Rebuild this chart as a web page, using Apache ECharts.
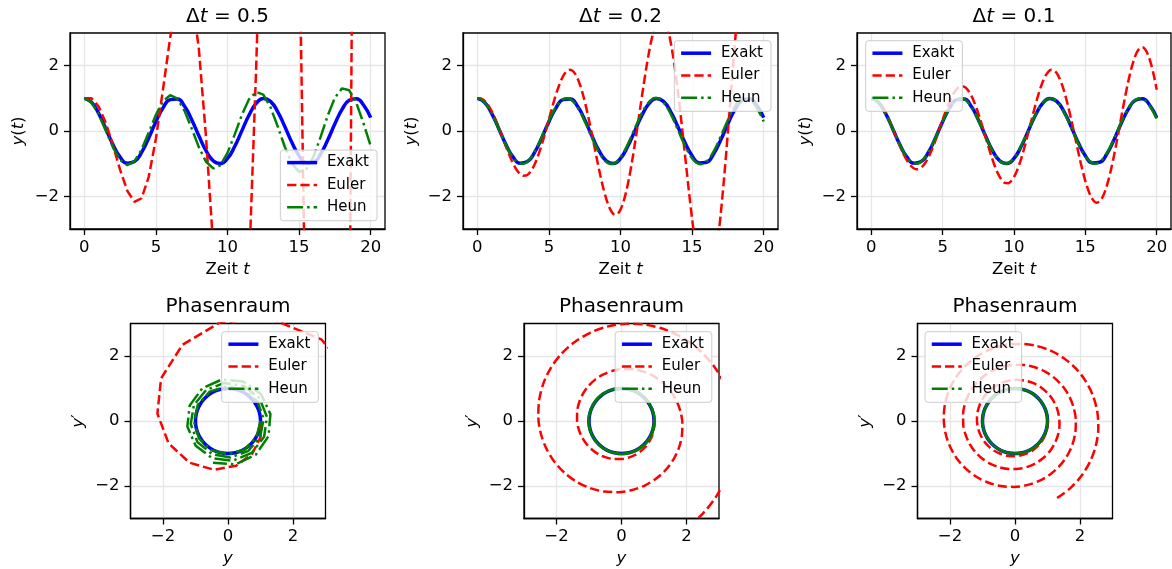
<!DOCTYPE html>
<html>
<head>
<meta charset="utf-8">
<title>Euler vs. Heun</title>
<script src="https://cdn.jsdelivr.net/npm/echarts@6/dist/echarts.min.js"></script>
<style>
  html, body { margin: 0; padding: 0; background: #fff; }
  #chart { width: 1172px; height: 569px; }
</style>
</head>
<body>
<div id="chart"></div>
<script>
// Zeitachsen
var tHalf = [0, 0.5, 1, 1.5, 2, 2.5, 3, 3.5, 4, 4.5, 5, 5.5, 6, 6.5, 7, 7.5, 8, 8.5, 9, 9.5, 10,
  10.5, 11, 11.5, 12, 12.5, 13, 13.5, 14, 14.5, 15, 15.5, 16, 16.5, 17, 17.5, 18, 18.5, 19, 19.5, 20]
var tSample = [0, 0.4, 0.8, 1.2, 1.6, 2, 2.4, 2.8, 3.2, 3.6, 4, 4.4, 4.8, 5.2, 5.6, 6, 6.4, 6.8, 7.2, 7.6, 8,
  8.4, 8.8, 9.2, 9.6, 10, 10.4, 10.8, 11.2, 11.6, 12, 12.4, 12.8, 13.2, 13.6, 14, 14.4, 14.8, 15.2, 15.6, 16,
  16.4, 16.8, 17.2, 17.6, 18, 18.4, 18.8, 19.2, 19.6, 20]
var tMid = [0.2, 0.6, 1, 1.4, 1.8, 2.2, 2.6, 3, 3.4, 3.8, 4.2, 4.6, 5, 5.4, 5.8, 6.2, 6.6, 7, 7.4, 7.8,
  8.2, 8.6, 9, 9.4, 9.8, 10.2, 10.6, 11, 11.4, 11.8, 12.2, 12.6, 13, 13.4, 13.8, 14.2, 14.6, 15, 15.4, 15.8,
  16.2, 16.6, 17, 17.4, 17.8, 18.2, 18.6, 19, 19.4, 19.8]

// exakte Loesung y(t)
var exaktY = [1, 0.878, 0.540, 0.071, -0.416, -0.801, -0.990, -0.936, -0.654, -0.211, 0.284, 0.709, 0.960,
  0.977, 0.754, 0.347, -0.146, -0.602, -0.911, -0.997, -0.839, -0.476, 0.004, 0.483, 0.844, 0.998, 0.907,
  0.595, 0.137, -0.355, -0.760, -0.978, -0.958, -0.702, -0.275, 0.219, 0.660, 0.940, 0.989, 0.796, 0.408]
// exakte Loesung im Phasenraum (Kreis)
var exaktPhaseY = [1, 0.985, 0.940, 0.866, 0.766, 0.643, 0.5, 0.342, 0.174, 0, -0.174, -0.342, -0.5, -0.643,
  -0.766, -0.866, -0.940, -0.985, -1, -0.985, -0.940, -0.866, -0.766, -0.643, -0.5, -0.342, -0.174, 0, 0.174,
  0.342, 0.5, 0.643, 0.766, 0.866, 0.940, 0.985, 1]
var exaktPhaseV = [0, -0.174, -0.342, -0.5, -0.643, -0.766, -0.866, -0.940, -0.985, -1, -0.985, -0.940, -0.866,
  -0.766, -0.643, -0.5, -0.342, -0.174, 0, 0.174, 0.342, 0.5, 0.643, 0.766, 0.866, 0.940, 0.985, 1, 0.985,
  0.940, 0.866, 0.766, 0.643, 0.5, 0.342, 0.174, 0]

// dt = 0.5
var euler05Y = [1, 1, 0.75, 0.25, -0.4375, -1.1875, -1.828, -2.172, -2.059, -1.402, -0.231, 1.290, 2.869,
  4.126, 4.666, 4.174, 2.515, -0.187, -3.517, -6.801, -9.206, -9.910, -8.313, -4.238, 1.915, 9.128, 15.862,
  20.314, 20.800, 16.209, 6.417, -7.427, -22.875, -36.467, -44.339, -43.095, -30.766, -7.664, 23.130, 55.841, 82.768]
var euler05V = [0, -0.5, -1, -1.375, -1.5, -1.281, -0.688, 0.227, 1.313, 2.342, 3.043, 3.159, 2.514, 1.079,
  -0.984, -3.317, -5.404, -6.661, -6.568, -4.809, -1.409, 3.194, 8.150, 12.306, 14.425, 13.468, 8.904, 0.973,
  -9.183, -19.584, -27.688, -30.896, -27.183, -15.745, 2.488, 24.658, 46.205, 61.588, 65.420, 53.855, 25.935]
var heun05Y = [1, 0.875, 0.516, 0.014, -0.500, -0.888, -1.047, -0.930, -0.564, -0.043, 0.498, 0.915, 1.096,
  0.988, 0.616, 0.075, -0.495, -0.942, -1.146, -1.049, -0.671, -0.110, 0.490, 0.969, 1.198, 1.112, 0.730,
  0.148, -0.483, -0.995, -1.251, -1.178, -0.792, -0.189, 0.473, 1.020, 1.305, 1.247, 0.857, 0.234, -0.462]
var heun05V = [0, -0.5, -0.875, -1.023, -0.902, -0.540, -0.028, 0.499, 0.902, 1.071, 0.959, 0.590, 0.059,
  -0.497, -0.929, -1.121, -1.018, -0.644, -0.092, 0.492, 0.955, 1.172, 1.080, 0.700, 0.128, -0.486, -0.982,
  -1.224, -1.145, -0.760, -0.168, 0.478, 1.008, 1.278, 1.212, 0.824, 0.211, -0.468, -1.033, -1.333, -1.283]

// dt = 0.2: Werte bei tSample ...
var euler02Y = [1, 0.96, 0.762, 0.424, -0.010, -0.477, -0.906, -1.223, -1.368, -1.304, -1.025, -0.556, 0.040,
  0.679, 1.260, 1.685, 1.872, 1.772, 1.378, 0.728, -0.092, -0.964, -1.751, -2.320, -2.560, -2.406, -1.851,
  -0.951, 0.176, 1.366, 2.433, 3.193, 3.500, 3.266, 2.486, 1.239, -0.309, -1.933, -3.378, -4.395, -4.784,
  -4.432, -3.335, -1.610, 0.516, 2.733, 4.688, 6.046, 6.537, 6.012, 4.473]
var euler02V = [0, -0.4, -0.768, -1.042, -1.170, -1.119, -0.883, -0.486, 0.023, 0.569, 1.068, 1.435, 1.601,
  1.520, 1.188, 0.637, -0.063, -0.809, -1.485, -1.977, -2.189, -2.065, -1.597, -0.833, 0.129, 1.148, 2.064,
  2.722, 2.994, 2.804, 2.145, 1.086, -0.235, -1.625, -2.867, -3.746, -4.092, -3.805, -2.880, -1.413, 0.401,
  2.299, 3.980, 5.155, 5.593, 5.163, 3.863, 1.833, -0.659, -3.247, -5.522]
var heun02Y = [1, 0.920, 0.693, 0.355, -0.040, -0.429, -0.750, -0.951, -1.000, -0.889, -0.636, -0.281, 0.120,
  0.501, 0.803, 0.976, 0.994, 0.852, 0.574, 0.204, -0.199, -0.571, -0.851, -0.996, -0.981, -0.810, -0.508,
  -0.125, 0.278, 0.637, 0.894, 1.009, 0.962, 0.761, 0.439, 0.046, -0.355, -0.699, -0.932, -1.016, -0.937,
  -0.708, -0.366, 0.035, 0.431, 0.758, 0.964, 1.016, 0.906, 0.650, 0.290]
var heun02V = [0, -0.392, -0.722, -0.936, -1.001, -0.906, -0.665, -0.318, 0.080, 0.465, 0.777, 0.964, 0.998,
  0.871, 0.606, 0.243, -0.159, -0.536, -0.828, -0.987, -0.988, -0.832, -0.542, -0.165, 0.238, 0.604, 0.873,
  1.003, 0.972, 0.786, 0.474, 0.086, -0.317, -0.669, -0.914, -1.013, -0.950, -0.735, -0.403, -0.005, 0.393,
  0.729, 0.949, 1.017, 0.922, 0.680, 0.329, -0.076, -0.468, -0.786, -0.978]
// ... und bei tMid
var euler02YMid = [1, 0.880, 0.608, 0.216, -0.244, -0.701, -1.083, -1.320, -1.364, -1.191, -0.811, -0.269,
  0.360, 0.983, 1.497, 1.812, 1.859, 1.610, 1.080, 0.333, -0.529, -1.377, -2.070, -2.486, -2.534, -2.177,
  -1.438, -0.407, 0.774, 1.927, 2.862, 3.411, 3.453, 2.941, 1.912, 0.490, -1.127, -2.694, -3.954, -4.677,
  -4.704, -3.973, -2.539, -0.579, 1.635, 3.765, 5.461, 6.413, 6.406, 5.363]
var euler02VMid = [-0.2, -0.592, -0.920, -1.127, -1.168, -1.024, -0.702, -0.241, 0.297, 0.830, 1.273, 1.547,
  1.592, 1.385, 0.936, 0.300, -0.437, -1.163, -1.761, -2.123, -2.171, -1.872, -1.247, -0.369, 0.641, 1.629,
  2.434, 2.912, 2.958, 2.530, 1.659, 0.447, -0.935, -2.279, -3.364, -3.994, -4.031, -3.418, -2.204, -0.534,
  1.358, 3.185, 4.647, 5.477, 5.489, 4.616, 2.925, 0.624, -1.966, -4.450]
var heun02YMid = [0.980, 0.824, 0.535, 0.161, -0.239, -0.601, -0.868, -0.996, -0.964, -0.778, -0.468, -0.082,
  0.317, 0.665, 0.908, 1.005, 0.942, 0.728, 0.397, 0.003, -0.393, -0.725, -0.942, -1.009, -0.914, -0.673,
  -0.323, 0.078, 0.467, 0.781, 0.971, 1.006, 0.880, 0.612, 0.247, -0.158, -0.538, -0.833, -0.994, -0.996,
  -0.840, -0.548, -0.169, 0.238, 0.607, 0.879, 1.011, 0.981, 0.794, 0.480]
var heun02VMid = [-0.2, -0.568, -0.846, -0.988, -0.973, -0.802, -0.502, -0.122, 0.278, 0.634, 0.889, 1.001,
  0.954, 0.754, 0.433, 0.043, -0.355, -0.696, -0.926, -1.008, -0.929, -0.701, -0.361, 0.037, 0.430, 0.754,
  0.958, 1.008, 0.897, 0.643, 0.286, -0.118, -0.503, -0.807, -0.983, -1.002, -0.860, -0.581, -0.208, 0.198,
  0.573, 0.856, 1.003, 0.989, 0.817, 0.515, 0.129, -0.277, -0.640, -0.900]

// dt = 0.1: Werte bei tSample ...
var euler01Y = [1, 0.940, 0.727, 0.389, -0.026, -0.453, -0.825, -1.079, -1.171, -1.079, -0.810, -0.400, 0.091,
  0.587, 1.009, 1.286, 1.369, 1.235, 0.897, 0.402, -0.178, -0.752, -1.230, -1.529, -1.596, -1.409, -0.988,
  -0.392, 0.291, 0.955, 1.493, 1.813, 1.856, 1.603, 1.082, 0.366, -0.437, -1.203, -1.807, -2.145, -2.154,
  -1.817, -1.175, -0.318, 0.624, 1.504, 2.179, 2.532, 2.493, 2.053, 1.265]
var euler01V = [0, -0.396, -0.745, -0.988, -1.083, -1.007, -0.768, -0.395, 0.056, 0.516, 0.913, 1.179, 1.266,
  1.155, 0.853, 0.402, -0.131, -0.665, -1.114, -1.403, -1.478, -1.319, -0.942, -0.399, 0.230, 0.849, 1.356,
  1.666, 1.721, 1.503, 1.035, 0.382, -0.359, -1.073, -1.643, -1.973, -2.000, -1.707, -1.129, -0.345, 0.525,
  1.346, 1.985, 2.331, 2.318, 1.932, 1.221, 0.284, -0.735, -1.679, -2.391]
var heun01Y = [1, 0.921, 0.696, 0.361, -0.032, -0.419, -0.740, -0.944, -0.998, -0.894, -0.649, -0.301, 0.096,
  0.476, 0.782, 0.964, 0.993, 0.864, 0.599, 0.239, -0.159, -0.532, -0.820, -0.979, -0.983, -0.831, -0.547,
  -0.177, 0.222, 0.585, 0.856, 0.991, 0.969, 0.794, 0.493, 0.114, -0.283, -0.636, -0.887, -0.999, -0.952,
  -0.754, -0.437, -0.050, 0.344, 0.684, 0.916, 1.002, 0.930, 0.711, 0.378]
var heun01V = [0, -0.390, -0.718, -0.933, -1.000, -0.908, -0.673, -0.331, 0.064, 0.448, 0.762, 0.954, 0.996,
  0.880, 0.624, 0.270, -0.127, -0.504, -0.802, -0.972, -0.988, -0.848, -0.574, -0.208, 0.190, 0.559, 0.838,
  0.986, 0.977, 0.813, 0.520, 0.145, -0.253, -0.611, -0.872, -0.995, -0.961, -0.774, -0.465, -0.082, 0.314,
  0.660, 0.902, 1.001, 0.941, 0.733, 0.408, 0.018, -0.374, -0.707, -0.928]
// ... und bei tMid
var euler01YMid = [0.990, 0.851, 0.571, 0.187, -0.242, -0.650, -0.970, -1.148, -1.148, -0.965, -0.619, -0.160,
  0.343, 0.812, 1.170, 1.354, 1.329, 1.089, 0.665, 0.118, -0.471, -1.009, -1.406, -1.594, -1.534, -1.225,
  -0.707, -0.055, 0.632, 1.246, 1.685, 1.872, 1.766, 1.372, 0.742, -0.032, -0.833, -1.532, -2.014, -2.193,
  -2.027, -1.529, -0.766, 0.151, 1.081, 1.876, 2.402, 2.564, 2.321, 1.696]
var euler01VMid = [-0.2, -0.580, -0.883, -1.056, -1.067, -0.907, -0.595, -0.175, 0.290, 0.727, 1.066, 1.247,
  1.236, 1.026, 0.643, 0.141, -0.404, -0.906, -1.283, -1.469, -1.428, -1.156, -0.687, -0.089, 0.547, 1.122,
  1.540, 1.728, 1.646, 1.297, 0.726, 0.015, -0.727, -1.383, -1.843, -2.027, -1.893, -1.449, -0.756, 0.087,
  0.950, 1.696, 2.200, 2.372, 2.170, 1.612, 0.772, -0.225, -1.227, -2.072]
var heun01YMid = [0.980, 0.825, 0.539, 0.168, -0.230, -0.592, -0.859, -0.991, -0.966, -0.787, -0.484, -0.105,
  0.292, 0.642, 0.891, 0.998, 0.948, 0.747, 0.428, 0.041, -0.352, -0.690, -0.918, -1.001, -0.925, -0.703,
  -0.370, 0.023, 0.411, 0.735, 0.942, 1.000, 0.900, 0.657, 0.310, -0.086, -0.469, -0.777, -0.962, -0.995,
  -0.870, -0.607, -0.248, 0.150, 0.525, 0.816, 0.978, 0.986, 0.837, 0.556]
var heun01VMid = [-0.199, -0.566, -0.842, -0.986, -0.973, -0.807, -0.512, -0.136, 0.261, 0.617, 0.875, 0.995,
  0.957, 0.768, 0.456, 0.073, -0.322, -0.666, -0.905, -1.000, -0.937, -0.725, -0.399, -0.009, 0.382, 0.713,
  0.931, 1.001, 0.913, 0.680, 0.340, -0.055, -0.440, -0.756, -0.953, -0.998, -0.885, -0.632, -0.279, 0.118,
  0.497, 0.797, 0.971, 0.991, 0.854, 0.582, 0.217, -0.181, -0.552, -0.834]

var titles = ['0.5', '0.2', '0.1']
var timeTicks = [0, 5, 10, 15, 20]
var valueTicks = [-2, 0, 2]

var FONT = 'DejaVu Sans'
var BLUE = '#0000ff', RED = '#ff0000', GREEN = '#008000'
var EULER_DASH = [9.25, 4]
var HEUN_DASH = [16, 4, 2.5, 4]

function pairs(xs, ys) {
  return xs.map(function (x, i) { return [x, ys[i]] })
}
// Werte bei tSample und tMid abwechselnd zusammenlegen
function interleave(a, b) {
  var out = []
  for (var i = 0; i < a.length; i++) {
    out.push(a[i])
    if (i < b.length) out.push(b[i])
  }
  return out
}

var tFine = interleave(tSample, tMid)
var tSteps = [tHalf, tFine, tFine]
var eulerY = [euler05Y, interleave(euler02Y, euler02YMid), interleave(euler01Y, euler01YMid)]
var eulerV = [euler05V, interleave(euler02V, euler02VMid), interleave(euler01V, euler01VMid)]
var heunY = [heun05Y, interleave(heun02Y, heun02YMid), interleave(heun01Y, heun01YMid)]
var heunV = [heun05V, interleave(heun02V, heun02VMid), interleave(heun01V, heun01VMid)]

var topBoxes = [
  { left: 70, top: 33, width: 315, height: 196 },
  { left: 463, top: 33, width: 315, height: 196 },
  { left: 857, top: 33, width: 314, height: 196 }
]
var botBoxes = [
  { left: 130.5, top: 323.5, width: 195, height: 195 },
  { left: 524, top: 323.5, width: 195, height: 195 },
  { left: 917.5, top: 323.5, width: 195, height: 195 }
]

var richText = {
  r: { fontFamily: FONT, fontSize: 16.5, color: '#000' },
  i: { fontFamily: FONT, fontSize: 16.5, color: '#000', fontStyle: 'italic' }
}

function minusFmt(ticks) {
  return function (v) {
    if (ticks.indexOf(v) < 0) return ''
    return v < 0 ? '\u2212' + Math.abs(v) : String(v)
  }
}

function makeAxis(gridIndex, min, max, split, ticks, name, nameGap, isX) {
  return {
    type: 'value',
    gridIndex: gridIndex,
    min: min,
    max: max,
    splitNumber: split,
    axisLine: { show: true, onZero: false, lineStyle: { color: '#000', width: 1.3 } },
    axisTick: { show: true, inside: false, length: 6, customValues: ticks, lineStyle: { color: '#000', width: 1.3 } },
    axisLabel: {
      show: true, customValues: ticks, margin: isX ? 10 : 11,
      fontFamily: FONT, fontSize: 16.5, color: '#000', formatter: minusFmt(ticks)
    },
    splitLine: { show: true, lineStyle: { color: '#e6e6e6', width: 1.3 } },
    name: name,
    nameLocation: 'middle',
    nameGap: nameGap,
    nameTextStyle: { fontFamily: FONT, fontSize: 16.5, color: '#000', rich: richText }
  }
}

var grids = [], xAxes = [], yAxes = [], series = [], titleList = [], legends = []

function addGrid(box) {
  grids.push({
    left: box.left, top: box.top, width: box.width, height: box.height,
    show: true, borderColor: '#000', borderWidth: 1.3, backgroundColor: 'transparent', z: 3
  })
}

function lineSeries(name, idx, data, smooth) {
  var color = name === 'Exakt' ? BLUE : (name === 'Euler' ? RED : GREEN)
  var width = name === 'Exakt' ? 3.5 : 2.5
  var type = name === 'Exakt' ? 'solid' : (name === 'Euler' ? EULER_DASH : HEUN_DASH)
  return {
    name: name, type: 'line', xAxisIndex: idx, yAxisIndex: idx,
    data: data, smooth: smooth, showSymbol: false, symbol: 'none', clip: true,
    lineStyle: { color: color, width: width, type: type },
    itemStyle: { color: color },
    emphasis: { disabled: true }
  }
}

function legendItems() {
  return [
    { name: 'Exakt', lineStyle: { width: 3.5 } },
    { name: 'Euler', lineStyle: { width: 2.5 } },
    { name: 'Heun', lineStyle: { width: 2.5 } }
  ]
}

function addLegend(pos) {
  var base = {
    orient: 'vertical', selectedMode: false, data: legendItems(),
    itemWidth: 30, itemHeight: 14, itemGap: 7.3,
    padding: [5, 8, 6, 5],
    backgroundColor: 'rgba(255,255,255,0.8)', borderColor: '#cccccc', borderWidth: 1, borderRadius: 3,
    itemStyle: { opacity: 0 },
    formatter: function (n) { return ' ' + n },
    textStyle: { fontFamily: FONT, fontSize: 15, color: '#000' },
    z: 6
  }
  for (var k in pos) base[k] = pos[k]
  legends.push(base)
}

var topLegendPos = [
  { right: 795, bottom: 348.3 },
  { right: 401, top: 40.7 },
  { left: 865.7, top: 40.7 }
]
var botLegendPos = [
  { right: 853.7, top: 331.7 },
  { right: 460.2, top: 331.7 },
  { left: 925, top: 331.7 }
]

// obere Reihe: y(t)
for (var i = 0; i < 3; i++) {
  var b = topBoxes[i]
  addGrid(b)
  xAxes.push(makeAxis(i, -1, 21, 5, timeTicks, '{r|Zeit }{i|t}', 32, true))
  yAxes.push(makeAxis(i, -3, 3, 3, valueTicks, '{i|y}{r|(}{i|t}{r|)}', 43, false))
  var sm = i === 0 ? false : 0.3
  series.push(lineSeries('Exakt', i, pairs(tHalf, exaktY), true))
  series.push(lineSeries('Euler', i, pairs(tSteps[i], eulerY[i]), sm))
  series.push(lineSeries('Heun', i, pairs(tSteps[i], heunY[i]), sm))
  titleList.push({
    text: '{r|\u0394}{i|t}{r| = ' + titles[i] + '}',
    left: b.left + b.width / 2, top: 17, padding: 0,
    textAlign: 'center', textVerticalAlign: 'middle',
    textStyle: {
      fontFamily: FONT, fontSize: 20, fontWeight: 'normal', color: '#000',
      rich: {
        r: { fontFamily: FONT, fontSize: 20, color: '#000' },
        i: { fontFamily: FONT, fontSize: 20, color: '#000', fontStyle: 'italic' }
      }
    }
  })
  addLegend(topLegendPos[i])
}

// untere Reihe: Phasenraum
for (var j = 0; j < 3; j++) {
  var bb = botBoxes[j]
  var gi = j + 3
  addGrid(bb)
  xAxes.push(makeAxis(gi, -3, 3, 3, valueTicks, '{i|y}', 32, true))
  yAxes.push(makeAxis(gi, -3, 3, 3, valueTicks, '{i|y}{r|\u2032}', 43, false))
  var sm2 = j === 0 ? false : 0.3
  series.push(lineSeries('Exakt', gi, pairs(exaktPhaseY, exaktPhaseV), true))
  series.push(lineSeries('Euler', gi, pairs(eulerY[j], eulerV[j]), sm2))
  series.push(lineSeries('Heun', gi, pairs(heunY[j], heunV[j]), sm2))
  titleList.push({
    text: 'Phasenraum',
    left: bb.left + bb.width / 2, top: 307, padding: 0,
    textAlign: 'center', textVerticalAlign: 'middle',
    textStyle: { fontFamily: FONT, fontSize: 20, fontWeight: 'normal', color: '#000' }
  })
  addLegend(botLegendPos[j])
}

var chart = echarts.init(document.getElementById('chart'), null, { renderer: 'canvas' })
chart.setOption({
  animation: false,
  backgroundColor: '#ffffff',
  title: titleList,
  legend: legends,
  grid: grids,
  xAxis: xAxes,
  yAxis: yAxes,
  series: series
})
</script>
</body>
</html>
